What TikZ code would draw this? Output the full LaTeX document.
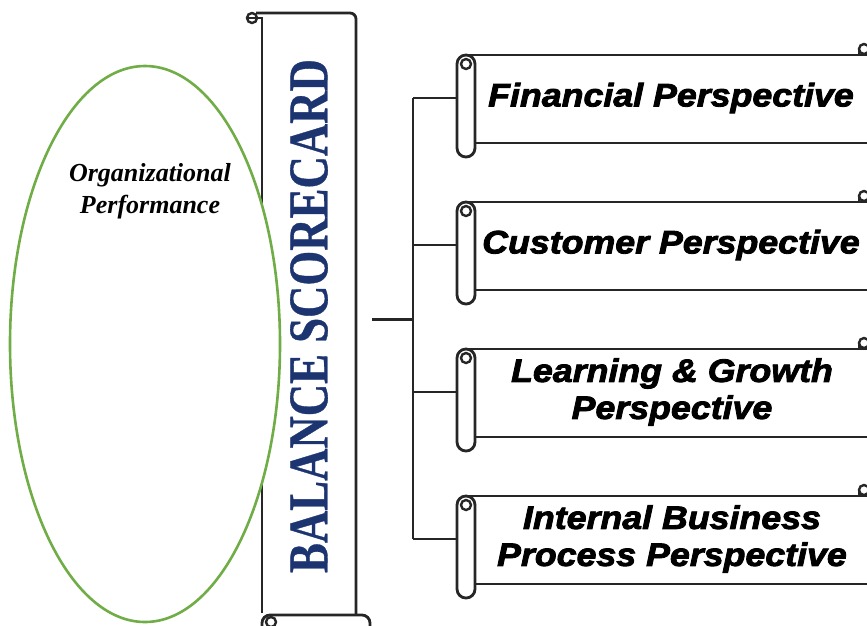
\documentclass[tikz,border=0pt]{standalone}
\usepackage{fontspec}
\setmainfont{Liberation Serif}
\newfontfamily\perspfont[FakeBold=2.6,FakeStretch=1.1]{Liberation Sans Bold Italic}
\newfontfamily\bscfont[FakeStretch=0.8,FakeBold=0.6]{Liberation Serif Bold}
\usetikzlibrary{shapes.geometric}
\definecolor{ellgreen}{RGB}{112,173,71}
\definecolor{bscnavy}{RGB}{28,52,112}
\tikzset{
  outline/.style={draw=black!85, line width=2.8pt, fill=white},
  curl/.style={draw=black!85, line width=2.4pt, fill=white},
  wire/.style={draw=black!85, line width=2.2pt},
  persptext/.style={font=\perspfont\fontsize{32.5}{37}\selectfont, align=center, text=black},
}
\begin{document}
\begin{tikzpicture}[x=1pt,y=-1pt]
\useasboundingbox (0,0) rectangle (867,625);
\clip (0,0) rectangle (867,625);

% vertical scroll holding the title
\fill[white] (262,13) rectangle (356,615);
\draw[outline, fill=none] (262,613) -- (262,17);
\draw[outline, fill=none, rounded corners=6] (256,13) -- (356,13) -- (356,616);
\draw[curl] (252,18) circle (5);
\draw[curl] (247,18) -- (262,18);
\draw[outline, rounded corners=8] (262,640) -- (262,615) -- (370,615) -- (370,640);
\draw[curl] (271,622) circle (5);
\node[rotate=90, text=bscnavy, font=\bscfont\fontsize{56}{60}\selectfont] (bsc) at (309,316) {BALANCE SCORECARD};

% horizontal scrolls for the four perspectives
\foreach \t/\nm in {55/fin,202/cus,349/lrn,496/ibp}{
  \fill[white] (466,\t) rectangle (880,\t+88);
  \draw[outline, fill=none] (466,\t) -- (880,\t);
  \draw[outline, fill=none] (475,\t+88) -- (880,\t+88);
  \draw[outline, rounded corners=8.9] (457,\t) rectangle (475,\t+102);
  \draw[curl] (466,\t+9) circle (5);
  \draw[curl] (864,\t-6) circle (5);
  \draw[curl, fill=none] (859,\t-6) -- (859,\t);
  \coordinate (\nm) at (457,\t+43);
}
\node[persptext] (fintxt) at (671,98) {Financial Perspective};
\node[persptext] (custxt) at (671,245) {Customer Perspective};
\node[persptext] (lrntxt) at (672,392) {Learning \& Growth\\Perspective};
\node[persptext] (ibptxt) at (672,539) {Internal Business\\Process Perspective};

% bracket joining the title to the perspectives
\coordinate (trunk) at (372,319);
\coordinate (jn) at (413,319);
\draw[wire, line width=3pt] (trunk) -- (jn);
\draw[wire] (fin -| jn) -- (ibp -| jn);
\foreach \nm in {fin,cus,lrn,ibp}{
  \draw[wire] (\nm -| jn) -- (\nm);
}

% organizational performance ellipse
\node[ellipse, draw=ellgreen, line width=2.6pt, fill=white,
      minimum width=270, minimum height=556, inner sep=0pt] (org) at (145,344) {};
\node[font=\bfseries\itshape\fontsize{26}{32}\selectfont, align=center] (orgtxt) at (150,191)
  {Organizational\\Performance};
\end{tikzpicture}
\end{document}
